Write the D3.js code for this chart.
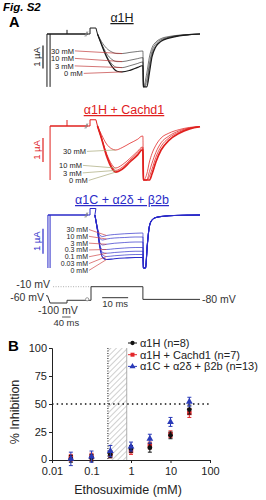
<!DOCTYPE html>
<html lang="en">
<head>
<meta charset="UTF-8" />
<title>Fig. S2</title>
<script src="https://cdn.jsdelivr.net/npm/d3@7/dist/d3.min.js"></script>
<style>
  body { margin: 0; background: #fff; }
  svg { display: block; font-family: 'Liberation Sans', Arial, sans-serif; }
</style>
</head>
<body>
<svg class="svg" width="266" height="500"></svg>
<script>
// ---------- panel A data: currents ----------
// t in ms from test-pulse onset, current in uA
const tStep = [2.5, 4, 6, 8, 10, 12, 15, 18, 19.7];
const tTail = [20, 20.2, 21.5, 22.5, 23.5, 25, 27, 30, 34, 38, 42];

const concH = ['30 mM', '10 mM', '3 mM', '0 mM'];
const stepH = [
  [0, -0.32, -0.62, -0.78, -0.85, -0.85, -0.8, -0.76, -0.74],
  [0, -0.4, -0.85, -1.1, -1.2, -1.2, -1.14, -1.07, -1.03],
  [0, -0.43, -0.95, -1.3, -1.45, -1.46, -1.38, -1.28, -1.22],
  [0, -0.45, -1.0, -1.4, -1.62, -1.65, -1.58, -1.45, -1.38]
];
const tailH = [
  [-0.74, -2.3, -1.7, -1.0, -0.6, -0.35, -0.2, -0.11, -0.05, -0.02, 0],
  [-1.03, -2.3, -2.0, -1.3, -0.75, -0.42, -0.25, -0.14, -0.06, -0.02, 0],
  [-1.22, -2.3, -2.2, -1.5, -0.9, -0.5, -0.3, -0.16, -0.07, -0.03, 0],
  [-1.38, -2.3, -2.3, -1.7, -1.0, -0.55, -0.32, -0.18, -0.08, -0.03, 0]
];

const concHC = ['30 mM', '10 mM', '3 mM', '0 mM'];
const tStepHC = [2.5, 4, 6, 8, 9.5, 12, 15, 18, 19.7];
const stepHC = [
  [0, -0.35, -0.75, -0.95, -1.0, -0.9, -0.72, -0.55, -0.42],
  [0, -0.48, -1.15, -1.6, -1.75, -1.62, -1.35, -1.05, -0.88],
  [0, -0.5, -1.2, -1.68, -1.85, -1.72, -1.42, -1.12, -0.95],
  [0, -0.5, -1.25, -1.75, -1.92, -1.8, -1.5, -1.2, -1.0]
];
const tailHC = [
  [-0.42, -2.25, -2.0, -1.5, -1.15, -0.8, -0.5, -0.3, -0.15, -0.06, -0.02],
  [-0.88, -2.25, -2.25, -1.9, -1.55, -1.1, -0.7, -0.42, -0.2, -0.08, -0.02],
  [-0.95, -2.25, -2.25, -2.1, -1.8, -1.3, -0.85, -0.5, -0.25, -0.1, -0.03],
  [-1.0, -2.25, -2.25, -2.25, -2.0, -1.5, -1.0, -0.6, -0.3, -0.12, -0.03]
];

const concC = ['30 mM', '10 mM', '3 mM', '0.3 mM', '0.1 mM', '0.03 mM', '0 mM'];
const tStepC = [1.5, 2.5, 3.5, 4.5, 6, 9, 13, 17, 19.7];
const stepC = [
  [0, -0.52, -0.82, -0.86, -0.82, -0.78, -0.75, -0.73, -0.72],
  [0, -0.55, -0.95, -1.0, -0.96, -0.92, -0.9, -0.88, -0.88],
  [0, -0.58, -1.12, -1.2, -1.17, -1.13, -1.1, -1.08, -1.08],
  [0, -0.6, -1.25, -1.38, -1.38, -1.35, -1.32, -1.3, -1.3],
  [0, -0.6, -1.28, -1.5, -1.53, -1.5, -1.47, -1.45, -1.45],
  [0, -0.6, -1.3, -1.6, -1.66, -1.63, -1.6, -1.58, -1.58],
  [0, -0.6, -1.35, -1.7, -1.78, -1.75, -1.72, -1.7, -1.7]
];
const tTailC = [20.2, 21, 21.7, 22.5, 23.5, 25, 28, 32, 42];
const tailC = [-2.12, -2.12, -1.2, -0.45, -0.2, -0.1, -0.05, -0.02, 0];

// voltage protocol
const vT = [-200, -193, -181, -102, -102, 0, 0, 20, 20, 42];
const vV = [-60, -60, -100, -100, -85, -85, -10, -10, -80, -80];

// ---------- panel B data ----------
const etx = [0.03, 0.1, 0.3, 1, 3, 10, 30];
const inhH = [1, 2, 5, 10, 11, 22, 45];
const semH = [3, 3, 3, 3, 4, 3, 4];
const inhHC = [2, 3, 5, 8, 13, 23, 42];
const semHC = [3, 3, 3, 3, 3, 3, 4];
const inhC = [1, 3, 8, 12, 19, 34, 52];
const semC = [6, 5, 5, 4, 4, 4, 4];
const therapeutic = [0.26, 0.78];
const legendNames = ['α1H (n=8)', 'α1H + Cachd1 (n=7)', 'α1C + α2δ + β2b (n=13)'];

const svg = d3.select('.svg');

svg.append('text').attr('x', 3).attr('y', 10.5)
  .attr('font-size', 11.5).attr('font-weight', 'bold').attr('font-style', 'italic')
  .text('Fig. S2');
svg.append('text').attr('x', 9).attr('y', 27)
  .attr('font-size', 14.5).attr('font-weight', 'bold').text('A');

// shared time axis, compressed before the break
const tx = d3.scaleLinear().domain([-200, -4, 0, 42]).range([46, 88, 91, 200]);

const panels = [
  {
    title: 'α1H', color: '#1a1a1a', tcx: 122, ty: 22, y0: 34, px: 23, bottom: -2.3,
    tStep: tStep, step: stepH, tail: tailH, conc: concH, spikes: [-195.5, -181], tick: 0.18,
    bar: [-0.5, -1.5], labelColor: '#222', leadColor: '#c23b3b', leadIdx: 5, lw: [0.7, 1.2],
    labels: [[51, 53.5], [51, 61], [55, 68.5], [64, 76]], anchor: 'start', fs: 7.5
  },
  {
    title: 'α1H + Cachd1', color: '#e0201e', tcx: 124, ty: 114, y0: 126, px: 24, bottom: -2.25,
    tStep: tStepHC, step: stepHC, tail: tailHC, conc: concHC, spikes: [-181], tick: 0.25,
    bar: [-0.5, -1.5], labelColor: '#222', leadColor: '#a8a878', leadIdx: 4, lw: [0.9, 1.7],
    labels: [[63, 154], [59, 168], [63, 175.5], [69, 183]], anchor: 'start', fs: 7.5
  },
  {
    title: 'α1C + α2δ + β2b', color: '#2a2ac8', tcx: 122, ty: 204, y0: 215, px: 25, bottom: -2.12,
    tStep: tStepC, step: stepC, tail: null, conc: concC, spikes: [-191, -181], tick: 0,
    bar: [-0.55, -1.55], labelColor: '#222', leadColor: '#d04848', leadIdx: 4, lw: [0.8, 1.2],
    labels: [[88, 232], [88, 238.8], [88, 245.6], [88, 252.4], [88, 259.2], [88, 266], [88, 272.8]],
    anchor: 'end', fs: 7
  }
];

panels.forEach(p => {
  const y = d3.scaleLinear().domain([-1, 0]).range([p.y0 + p.px, p.y0]);
  const g = svg.append('g');
  const flat = d3.line().x(d => tx(d[0])).y(d => y(d[1]));
  const smooth = d3.line().x(d => tx(d[0])).y(d => y(d[1])).curve(d3.curveMonotoneX);

  // title
  g.append('text').attr('x', p.tcx).attr('y', p.ty).attr('text-anchor', 'middle')
    .attr('font-size', 12.5).attr('fill', p.color)
    .style('text-decoration', 'underline').text(p.title);

  // transients of the pre-pulse steps
  p.spikes.forEach(t => {
    g.append('path').attr('d', flat([[t, 0], [t, p.bottom]]))
      .attr('stroke', p.color).attr('stroke-width', 1).attr('fill', 'none');
  });
  // holding baseline
  g.append('path').attr('d', flat([[p.spikes[0], 0], [-4, 0]]))
    .attr('stroke', p.color).attr('stroke-width', 1.5).attr('fill', 'none');
  if (p.tick) {
    g.append('path').attr('d', flat([[-102, 0], [-102, p.tick]]))
      .attr('stroke', p.color).attr('stroke-width', 1).attr('fill', 'none');
  }
  // axis break
  [-14, -9].forEach(t => {
    g.append('line')
      .attr('x1', tx(t) - 1).attr('y1', y(0) + 2.5)
      .attr('x2', tx(t) + 1).attr('y2', y(0) - 2.5)
      .attr('stroke', '#888').attr('stroke-width', 0.8);
  });
  // capacitive blip at pulse onset
  g.append('path').attr('d', flat([[-4, 0], [-1.3, 0], [-1.3, 0.26], [1.9, 0.26], [p.tStep[0], 0]]))
    .attr('stroke', p.color).attr('stroke-width', 1).attr('fill', 'none');

  // current traces
  p.step.forEach((vals, i) => {
    const pts = p.tStep.map((t, j) => [t, vals[j]]);
    if (p.tail) {
      p.tail[i].forEach((v, j) => pts.push([tTail[j], v]));
    } else {
      pts.push([20, vals[vals.length - 1]]);
      tailC.forEach((v, j) => pts.push([tTailC[j], v]));
    }
    const last = i === p.step.length - 1;
    g.append('path').attr('d', smooth(pts))
      .attr('stroke', p.color).attr('fill', 'none')
      .attr('stroke-width', last ? p.lw[1] : p.lw[0])
      .attr('opacity', last ? 1 : 0.85);
  });

  // 1 uA scale bar
  g.append('line').attr('x1', 43).attr('x2', 43)
    .attr('y1', y(p.bar[0])).attr('y2', y(p.bar[1]))
    .attr('stroke', p.color).attr('stroke-width', 1.2);
  const my = (y(p.bar[0]) + y(p.bar[1])) / 2;
  g.append('text').attr('transform', `translate(40,${my}) rotate(-90)`)
    .attr('text-anchor', 'middle').attr('font-size', 9.5).attr('fill', p.color)
    .text('1 µA');

  // concentration labels with leader lines
  p.conc.forEach((c, i) => {
    const [lx, ly] = p.labels[i];
    const txt = g.append('text').attr('x', lx).attr('y', ly)
      .attr('text-anchor', p.anchor).attr('font-size', p.fs)
      .attr('fill', p.labelColor).text(c);
    const w = txt.node().getComputedTextLength();
    const x0 = p.anchor === 'end' ? lx + 1 : lx + w + 1;
    const k = p.leadIdx;
    g.append('line').attr('x1', x0).attr('y1', ly - p.fs * 0.35)
      .attr('x2', tx(p.tStep[k])).attr('y2', y(p.step[i][k]))
      .attr('stroke', p.leadColor).attr('stroke-width', 0.7);
  });
});

// ---------- voltage protocol ----------
const vy = d3.scaleLinear().domain([-100, -10]).range([303, 286.7]);
const vp = svg.append('g');
vp.append('path')
  .attr('d', d3.line().x((d, i) => tx(vT[i])).y(d => vy(d))(vV))
  .attr('stroke', '#333').attr('stroke-width', 1).attr('fill', 'none');
vp.append('line').attr('x1', tx(-167)).attr('x2', tx(0))
  .attr('y1', vy(-10)).attr('y2', vy(-10))
  .attr('stroke', '#999').attr('stroke-width', 0.8).attr('stroke-dasharray', '1,1.5');
vp.append('circle').attr('cx', tx(-8)).attr('cy', vy(-85) - 1).attr('r', 1.6)
  .attr('fill', '#fff').attr('stroke', '#777').attr('stroke-width', 0.7);
const vText = (x, yy, s, anchor) => vp.append('text').attr('x', x).attr('y', yy)
  .attr('font-size', 10.5).attr('fill', '#333').attr('text-anchor', anchor || 'start').text(s);
vText(50, 288, '-10 mV', 'end');
vText(44, 301, '-60 mV', 'end');
vText(38, 314, '-100 mV');
vText(202, 302.5, '-80 mV');
// time scale bars
vp.append('line').attr('x1', tx(4.3)).attr('x2', tx(14.3)).attr('y1', 297.7).attr('y2', 297.7)
  .attr('stroke', '#333').attr('stroke-width', 1);
vp.append('text').attr('x', (tx(4.3) + tx(14.3)) / 2).attr('y', 306.5).attr('text-anchor', 'middle')
  .attr('font-size', 9.5).attr('fill', '#333').text('10 ms');
vp.append('line').attr('x1', tx(-125)).attr('x2', tx(-85)).attr('y1', 317).attr('y2', 317)
  .attr('stroke', '#555').attr('stroke-width', 1);
vp.append('text').attr('x', (tx(-125) + tx(-85)) / 2).attr('y', 326).attr('text-anchor', 'middle')
  .attr('font-size', 9.5).attr('fill', '#333').text('40 ms');

// ---------- panel B ----------
svg.append('text').attr('x', 8).attr('y', 351)
  .attr('font-size', 15).attr('font-weight', 'bold').text('B');

const xB = d3.scaleLog().domain([0.01, 100]).range([52, 210]);
const yB = d3.scaleLinear().domain([0, 100]).range([460, 348]);
const gB = svg.append('g');

const defs = svg.append('defs');
const pat = defs.append('pattern').attr('id', 'hatch').attr('patternUnits', 'userSpaceOnUse')
  .attr('width', 4).attr('height', 4).attr('patternTransform', 'rotate(45)');
pat.append('line').attr('x1', 0).attr('y1', 0).attr('x2', 0).attr('y2', 4)
  .attr('stroke', '#888').attr('stroke-width', 0.8);

gB.append('rect')
  .attr('x', xB(therapeutic[0])).attr('y', yB(100))
  .attr('width', xB(therapeutic[1]) - xB(therapeutic[0])).attr('height', yB(0) - yB(100))
  .attr('fill', 'url(#hatch)');
gB.append('line').attr('x1', xB(therapeutic[0])).attr('x2', xB(therapeutic[0]))
  .attr('y1', yB(100)).attr('y2', yB(0))
  .attr('stroke', '#111').attr('stroke-width', 1).attr('stroke-dasharray', '1,1.5');
gB.append('line').attr('x1', xB(therapeutic[1])).attr('x2', xB(therapeutic[1]))
  .attr('y1', yB(100)).attr('y2', yB(0))
  .attr('stroke', '#999').attr('stroke-width', 0.8);

// IC50 reference line
gB.append('line').attr('x1', xB(0.01)).attr('x2', xB(100))
  .attr('y1', yB(50)).attr('y2', yB(50))
  .attr('stroke', '#111').attr('stroke-width', 1.5).attr('stroke-dasharray', '1.5,3.2');

const xAxis = d3.axisBottom(xB).tickValues([0.01, 0.1, 1, 10, 100])
  .tickFormat(d3.format('~g')).tickSize(3).tickPadding(4);
const yAxis = d3.axisLeft(yB).tickValues([0, 25, 50, 75, 100]).tickSize(3).tickPadding(2);
gB.append('g').attr('transform', `translate(0,${yB(0)})`).call(xAxis)
  .call(a => a.selectAll('text').attr('font-size', 11).attr('fill', '#222').attr('font-family', null));
gB.append('g').attr('transform', `translate(${xB(0.01)},0)`).call(yAxis)
  .call(a => a.selectAll('text').attr('font-size', 11).attr('fill', '#222').attr('font-family', null))
  .call(a => a.selectAll('.tick').filter(d => d === 0).select('text').attr('dy', '0.2em'));
gB.selectAll('.domain, .tick line').attr('stroke', '#222');

gB.append('text').attr('x', 128).attr('y', 494).attr('text-anchor', 'middle')
  .attr('font-size', 12.5).attr('fill', '#222').text('Ethosuximide (mM)');
gB.append('text').attr('transform', 'translate(19,412) rotate(-90)')
  .attr('text-anchor', 'middle').attr('font-size', 12.5).attr('fill', '#222').text('% Inhibition');

const series = [
  { vals: inhHC, sem: semHC, color: '#e3262a', shape: d3.symbolSquare, size: 20 },
  { vals: inhH, sem: semH, color: '#111', shape: d3.symbolCircle, size: 18 },
  { vals: inhC, sem: semC, color: '#2a3ab8', shape: d3.symbolTriangle, size: 20 }
];
series.forEach(s => {
  const gs = gB.append('g');
  etx.forEach((c, i) => {
    const cx = xB(c);
    const lo = yB(s.vals[i] - s.sem[i]), hi = yB(s.vals[i] + s.sem[i]);
    gs.append('line').attr('x1', cx).attr('x2', cx).attr('y1', lo).attr('y2', hi)
      .attr('stroke', s.color).attr('stroke-width', 1);
    [lo, hi].forEach(yy => gs.append('line').attr('x1', cx - 2).attr('x2', cx + 2)
      .attr('y1', yy).attr('y2', yy).attr('stroke', s.color).attr('stroke-width', 1));
    gs.append('path').attr('d', d3.symbol(s.shape, s.size)())
      .attr('transform', `translate(${cx},${yB(s.vals[i])})`).attr('fill', s.color);
  });
});

// legend
const legend = [series[1], series[0], series[2]];
legend.forEach((s, i) => {
  const ly = 343 + i * 11.7;
  gB.append('line').attr('x1', 128).attr('x2', 137).attr('y1', ly).attr('y2', ly)
    .attr('stroke', s.color).attr('stroke-width', 1);
  gB.append('path').attr('d', d3.symbol(s.shape, s.size * 0.8)())
    .attr('transform', `translate(132.5,${ly})`).attr('fill', s.color);
  gB.append('text').attr('x', 140).attr('y', ly + 4).attr('font-size', 11)
    .attr('fill', '#222').text(legendNames[i]);
});
</script>
</body>
</html>
